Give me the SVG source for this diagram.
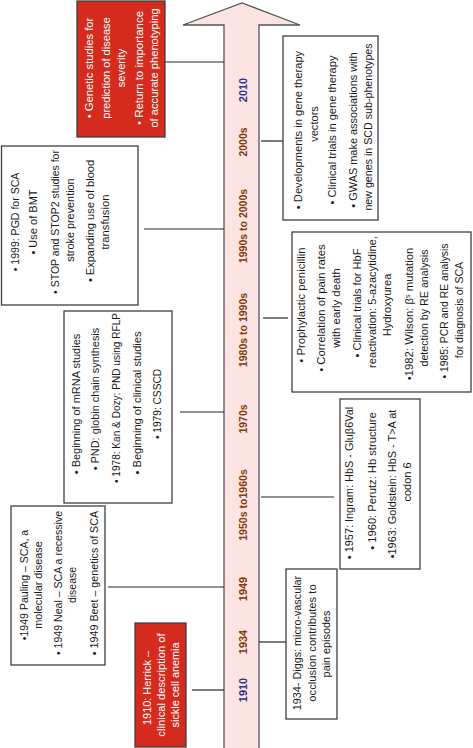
<svg xmlns="http://www.w3.org/2000/svg" width="473" height="748" viewBox="0 0 473 748">
<style>
.box{fill:#ffffff;stroke:#404040;stroke-width:1.3}
.red{fill:#d52b1e;stroke:#404040;stroke-width:1.3}
.t{font-family:"Liberation Sans",Arial,sans-serif;font-size:11.2px;fill:#1a1a1a;text-anchor:middle}
.w{fill:#ffffff}
.yr{font-family:"Liberation Sans",Arial,sans-serif;font-size:10.5px;font-weight:bold;text-anchor:middle}
.br{fill:#843c0c}
.bl{fill:#2e3192}
#connectors line{stroke:#262626;stroke-width:1.2}
</style>

<g id="timeline-arrow">
  <path d="M224,748 V25 H183 L242,3 L300,25 H259 V748" fill="#fbe4e2" stroke="#555555" stroke-width="1.3"/>
  <g transform="rotate(-90)">
    <text class="yr bl" x="-90" y="246.5" textLength="24.3" lengthAdjust="spacingAndGlyphs">2010</text>
    <text class="yr br" x="-142" y="246.5" textLength="29.1" lengthAdjust="spacingAndGlyphs">2000s</text>
    <text class="yr br" x="-226" y="246.5" textLength="74.3" lengthAdjust="spacingAndGlyphs">1990s to 2000s</text>
    <text class="yr br" x="-330" y="246.5" textLength="74.3" lengthAdjust="spacingAndGlyphs">1980s to 1990s</text>
    <text class="yr br" x="-419" y="246.5" textLength="29.1" lengthAdjust="spacingAndGlyphs">1970s</text>
    <text class="yr br" x="-505" y="246.5" textLength="71.6" lengthAdjust="spacingAndGlyphs">1950s to1960s</text>
    <text class="yr br" x="-589" y="246.5" textLength="24.3" lengthAdjust="spacingAndGlyphs">1949</text>
    <text class="yr br" x="-642" y="246.5" textLength="24.3" lengthAdjust="spacingAndGlyphs">1934</text>
    <text class="yr bl" x="-690" y="246.5" textLength="24.3" lengthAdjust="spacingAndGlyphs">1910</text>
  </g>
</g>

<g id="connectors">
  <line x1="165" y1="62" x2="224" y2="62"/>
  <line x1="261" y1="141" x2="283" y2="141"/>
  <line x1="144" y1="229" x2="224" y2="229"/>
  <line x1="263" y1="318" x2="288" y2="318"/>
  <line x1="180" y1="412" x2="224" y2="412"/>
  <line x1="261" y1="497" x2="334" y2="497"/>
  <line x1="108" y1="587" x2="224" y2="587"/>
  <line x1="259" y1="642" x2="286" y2="642"/>
  <line x1="192" y1="690" x2="224" y2="690"/>
</g>

<g id="node-2010">
  <rect class="red" x="77" y="1" width="88" height="136"/>
  <g transform="rotate(-90)">
    <text class="t w" x="-68" y="93" textLength="100.7" lengthAdjust="spacingAndGlyphs">• Genetic studies for</text>
    <text class="t w" x="-68" y="109.5" textLength="101.5" lengthAdjust="spacingAndGlyphs">prediction of disease</text>
    <text class="t w" x="-68" y="124.5" textLength="38.5" lengthAdjust="spacingAndGlyphs">severity</text>
    <text class="t w" x="-68" y="143" textLength="114" lengthAdjust="spacingAndGlyphs">• Return to importance</text>
    <text class="t w" x="-68" y="158" textLength="119.2" lengthAdjust="spacingAndGlyphs">of accurate phenotyping</text>
  </g>
</g>

<g id="node-2000s">
  <rect class="box" x="283" y="36" width="95" height="184"/>
  <g transform="rotate(-90)">
    <text class="t" x="-130" y="302" textLength="158.4" lengthAdjust="spacingAndGlyphs">• Developments in gene therapy</text>
    <text class="t" x="-124" y="318" textLength="35.7" lengthAdjust="spacingAndGlyphs">vectors</text>
    <text class="t" x="-130" y="336" textLength="149.1" lengthAdjust="spacingAndGlyphs">• Clinical trials in gene therapy</text>
    <text class="t" x="-130" y="357" textLength="155.3" lengthAdjust="spacingAndGlyphs">• GWAS make associations with</text>
    <text class="t" x="-127" y="372" textLength="167.2" lengthAdjust="spacingAndGlyphs">new genes in SCD sub-phenotypes</text>
  </g>
</g>

<g id="node-1990s">
  <rect class="box" x="1.5" y="146" width="136.5" height="159"/>
  <g transform="rotate(-90)">
    <text class="t" x="-222" y="18.5" textLength="98.7" lengthAdjust="spacingAndGlyphs">• 1999: PGD for SCA</text>
    <text class="t" x="-222" y="36.5" textLength="65.2" lengthAdjust="spacingAndGlyphs">• Use of BMT</text>
    <text class="t" x="-222" y="59" textLength="143.9" lengthAdjust="spacingAndGlyphs">• STOP and STOP2 studies for</text>
    <text class="t" x="-220" y="74" textLength="83.3" lengthAdjust="spacingAndGlyphs">stroke prevention</text>
    <text class="t" x="-221" y="94" textLength="122.2" lengthAdjust="spacingAndGlyphs">• Expanding use of blood</text>
    <text class="t" x="-222" y="109" textLength="55" lengthAdjust="spacingAndGlyphs">transfusion</text>
  </g>
</g>

<g id="node-1980s">
  <rect class="box" x="292" y="232" width="179" height="160"/>
  <g transform="rotate(-90)">
    <text class="t" x="-305" y="305" textLength="115.3" lengthAdjust="spacingAndGlyphs">• Prophylactic penicillin</text>
    <text class="t" x="-308" y="325" textLength="127.5" lengthAdjust="spacingAndGlyphs">• Correlation of pain rates</text>
    <text class="t" x="-308" y="340" textLength="79.5" lengthAdjust="spacingAndGlyphs">with early death</text>
    <text class="t" x="-303" y="361" textLength="108.9" lengthAdjust="spacingAndGlyphs">• Clinical trials for HbF</text>
    <text class="t" x="-302" y="376" textLength="131.8" lengthAdjust="spacingAndGlyphs">reactivation: 5-azacytidine,</text>
    <text class="t" x="-305" y="391" textLength="62.6" lengthAdjust="spacingAndGlyphs">Hydroxyurea</text>
    <text class="t" x="-314" y="413" textLength="132.6" lengthAdjust="spacingAndGlyphs">•1982: Wilson: β<tspan dy="-3.5" font-size="7px">s</tspan><tspan dy="3.5"> mutation</tspan></text>
    <text class="t" x="-308" y="428" textLength="117.1" lengthAdjust="spacingAndGlyphs">detection by RE analysis</text>
    <text class="t" x="-311" y="448" textLength="135" lengthAdjust="spacingAndGlyphs">• 1985: PCR and RE analysis</text>
    <text class="t" x="-310" y="463" textLength="96.3" lengthAdjust="spacingAndGlyphs">for diagnosis of SCA</text>
  </g>
</g>

<g id="node-1970s">
  <rect class="box" x="64" y="311" width="108" height="192"/>
  <g transform="rotate(-90)">
    <text class="t" x="-404" y="80" textLength="140.5" lengthAdjust="spacingAndGlyphs">• Beginning of mRNA studies</text>
    <text class="t" x="-399" y="99" textLength="142.5" lengthAdjust="spacingAndGlyphs">• PND: globin chain synthesis</text>
    <text class="t" x="-398" y="120" textLength="170" lengthAdjust="spacingAndGlyphs">• 1978: Kan &amp; Dozy: PND using RFLP</text>
    <text class="t" x="-403" y="140.5" textLength="142.9" lengthAdjust="spacingAndGlyphs">• Beginning of clinical studies</text>
    <text class="t" x="-404" y="161" textLength="70.1" lengthAdjust="spacingAndGlyphs">• 1979: CSSCD</text>
  </g>
</g>

<g id="node-1950s">
  <rect class="box" x="340" y="399" width="80" height="170"/>
  <g transform="rotate(-90)">
    <text class="t" x="-483" y="353" textLength="152.3" lengthAdjust="spacingAndGlyphs">• 1957: Ingram: HbS - Gluβ6Val</text>
    <text class="t" x="-481" y="376" textLength="137.6" lengthAdjust="spacingAndGlyphs">• 1960: Perutz: Hb structure</text>
    <text class="t" x="-484" y="396" textLength="148.5" lengthAdjust="spacingAndGlyphs">•1963: Goldstein: HbS - T&gt;A at</text>
    <text class="t" x="-482" y="411" textLength="39.1" lengthAdjust="spacingAndGlyphs">codon 6</text>
  </g>
</g>

<g id="node-1949">
  <rect class="box" x="11" y="506" width="94" height="159"/>
  <g transform="rotate(-90)">
    <text class="t" x="-585" y="28" textLength="110.4" lengthAdjust="spacingAndGlyphs">•1949 Pauling – SCA, a</text>
    <text class="t" x="-585" y="41.5" textLength="87.5" lengthAdjust="spacingAndGlyphs">molecular disease</text>
    <text class="t" x="-583" y="62" textLength="144.1" lengthAdjust="spacingAndGlyphs">• 1949 Neal – SCA a recessive</text>
    <text class="t" x="-585" y="76" textLength="36.1" lengthAdjust="spacingAndGlyphs">disease</text>
    <text class="t" x="-583" y="98" textLength="144.3" lengthAdjust="spacingAndGlyphs">• 1949 Beet – genetics of SCA</text>
  </g>
</g>

<g id="node-1934">
  <rect class="box" x="286" y="569" width="51" height="150"/>
  <g transform="rotate(-90)">
    <text class="t" x="-643" y="301" textLength="134.3" lengthAdjust="spacingAndGlyphs">1934- Diggs: micro-vascular</text>
    <text class="t" x="-643" y="316" textLength="117.3" lengthAdjust="spacingAndGlyphs">occlusion contributes to</text>
    <text class="t" x="-644" y="330" textLength="66.8" lengthAdjust="spacingAndGlyphs">pain episodes</text>
  </g>
</g>

<g id="node-1910">
  <rect class="red" x="135" y="623" width="51" height="124"/>
  <g transform="rotate(-90)">
    <text class="t w" x="-688" y="150.5" textLength="74" lengthAdjust="spacingAndGlyphs">1910: Herrick –</text>
    <text class="t w" x="-685" y="165" textLength="103.3" lengthAdjust="spacingAndGlyphs">clinical description of</text>
    <text class="t w" x="-685" y="179" textLength="84.8" lengthAdjust="spacingAndGlyphs">sickle cell anemia</text>
  </g>
</g>
</svg>
